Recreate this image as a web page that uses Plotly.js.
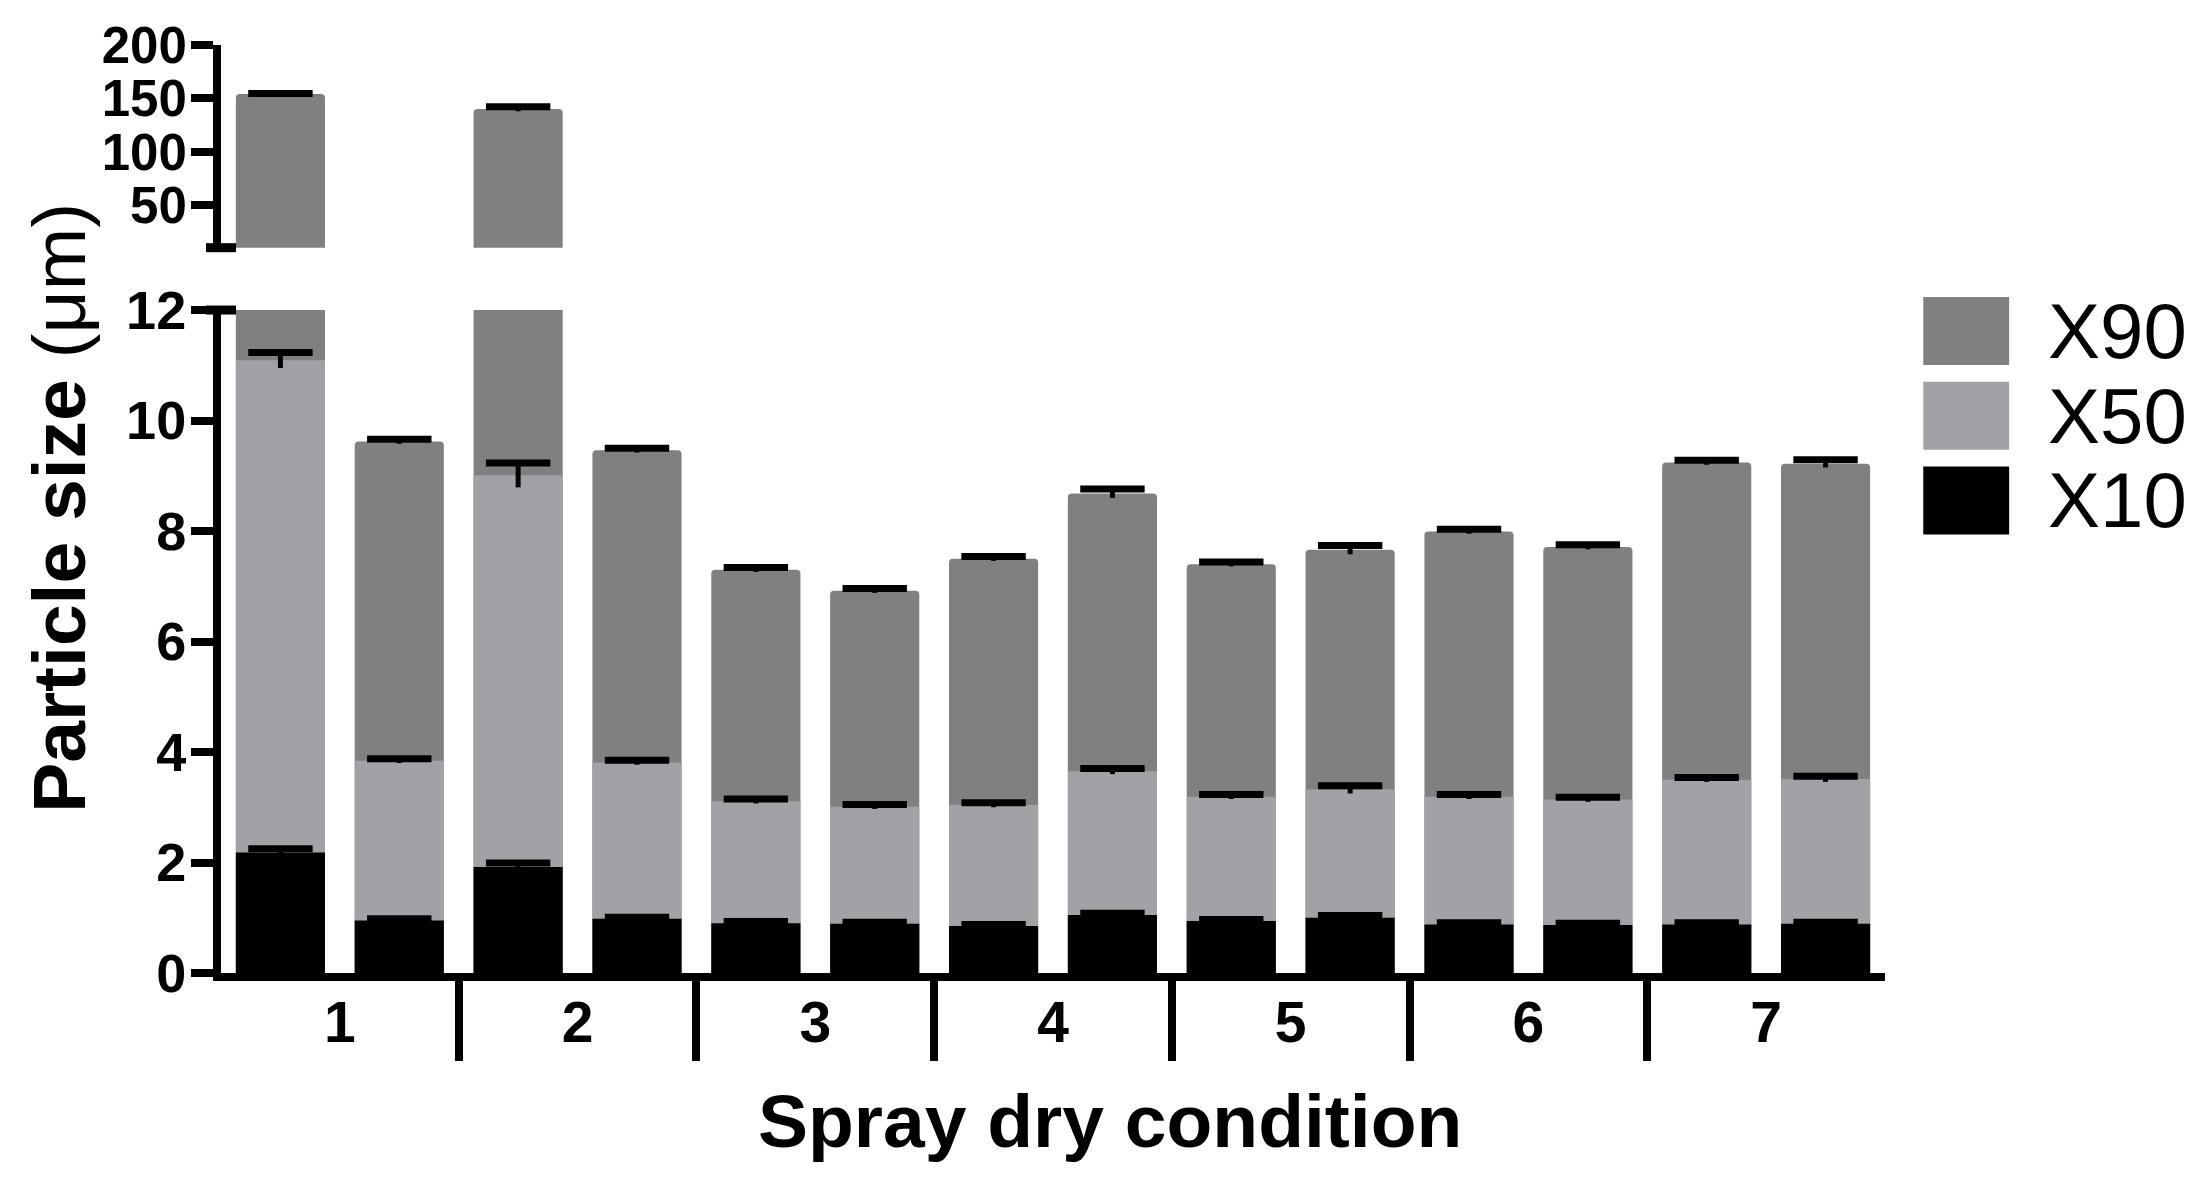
<!DOCTYPE html>
<html>
<head>
<meta charset="utf-8">
<script src="https://cdn.plot.ly/plotly-3.0.1.min.js"></script>
<style>
  html, body { margin: 0; padding: 0; background: #fff; }
  #chart { width: 2211px; height: 1179px; }
</style>
</head>
<body>
<div id="chart"></div>
<script>
// spray dry conditions, two runs each
const conditions = ['1', '2', '3', '4', '5', '6', '7']
const barsPerCondition = 2

// particle size (um), one value per bar
const x10 = [2.18, 0.95, 1.92, 0.98, 0.90, 0.89, 0.85, 1.05, 0.94, 1.00, 0.88, 0.87, 0.88, 0.89]
const x50 = [11.09, 3.84, 9.01, 3.81, 3.11, 3.01, 3.04, 3.65, 3.19, 3.32, 3.19, 3.14, 3.50, 3.51]
const x90 = [154, 9.62, 140, 9.46, 7.30, 6.92, 7.50, 8.68, 7.40, 7.66, 7.99, 7.71, 9.24, 9.22]

// standard deviations
const x10Sd = [0.07, 0.03, 0.07, 0.03, 0.03, 0.03, 0.03, 0.03, 0.03, 0.04, 0.03, 0.03, 0.03, 0.03]
const x50Sd = [0.14, 0.04, 0.22, 0.04, 0.04, 0.04, 0.04, 0.05, 0.04, 0.07, 0.04, 0.04, 0.04, 0.05]
const x90Sd = [0.5, 0.04, 2, 0.04, 0.04, 0.04, 0.04, 0.08, 0.04, 0.08, 0.04, 0.04, 0.04, 0.07]

const seriesNames = ['X90', 'X50', 'X10']
const seriesColors = ['#808080', '#a2a1a5', '#000000']

// broken y axis: lower and upper segments
const lowRange = [0, 12]
const highRange = [10, 200]

const FONT = '"Liberation Sans", Arial, Helvetica, sans-serif'

const xPos = x10.map((_, i) => i)
const groupCenters = conditions.map((_, i) => i * barsPerCondition + (barsPerCondition - 1) / 2)
const groupEdges = conditions.slice(1).map((_, i) => (i + 1) * barsPerCondition - 0.5)
const x90High = x90.map(v => (v > highRange[0] ? v : null))

const makeBar = (name, y, sd, color, yaxis) => ({
  type: 'bar',
  name: name,
  x: xPos,
  y: y,
  yaxis: yaxis,
  marker: { color: color, line: { width: 0 }, cornerradius: 4 },
  error_y: { type: 'data', array: sd, visible: true, color: '#000', thickness: 5, width: 0 },
  hoverinfo: 'skip',
  showlegend: false,
})

const makeCaps = (y, sd, yaxis) => ({
  type: 'scatter',
  mode: 'markers',
  x: xPos,
  y: y.map((v, i) => (v === null ? null : v + sd[i])),
  yaxis: yaxis,
  marker: { symbol: 'line-ew', size: 46, color: '#000', line: { width: 7, color: '#000' } },
  hoverinfo: 'skip',
  showlegend: false,
})

const traces = [
  makeBar('X90', x90, x90Sd, seriesColors[0], 'y'),
  makeBar('X50', x50, x50Sd, seriesColors[1], 'y'),
  makeBar('X10', x10, x10Sd, seriesColors[2], 'y'),
  makeBar('X90', x90High, x90Sd, seriesColors[0], 'y2'),
  makeCaps(x90, x90Sd, 'y'),
  makeCaps(x50, x50Sd, 'y'),
  makeCaps(x10, x10Sd, 'y'),
  makeCaps(x90High, x90Sd, 'y2'),
]

// hand-made legend (plotly legend symbols can't be this big)
const legendShapes = seriesNames.map((name, i) => ({
  type: 'rect',
  xref: 'paper', yref: 'paper',
  x0: 1.0230, x1: 1.0746,
  y0: 0.6552 - i * 0.0913, y1: 0.7284 - i * 0.0913,
  fillcolor: seriesColors[i],
  line: { width: 0 },
}))

const legendLabels = seriesNames.map((name, i) => ({
  xref: 'paper', yref: 'paper',
  x: 1.097, y: 0.6918 - i * 0.0913,
  xanchor: 'left', yanchor: 'middle',
  text: name,
  showarrow: false,
  font: { family: FONT, size: 78, color: '#000' },
}))

// end caps of the axis break
const breakShapes = [
  { type: 'line', xref: 'paper', yref: 'y2 domain', x0: -0.009, x1: 0.009, y0: 0, y1: 0, line: { color: '#000', width: 9 } },
  { type: 'line', xref: 'paper', yref: 'y domain', x0: -0.009, x1: 0.009, y0: 1, y1: 1, line: { color: '#000', width: 9 } },
]

const axisTitles = [
  {
    xref: 'paper', yref: 'paper',
    x: -0.0975, y: 0.501,
    xanchor: 'center', yanchor: 'middle',
    textangle: -90,
    text: '<b>Particle size</b> (μm)',
    showarrow: false,
    font: { family: FONT, size: 75, color: '#000' },
  },
  {
    xref: 'paper', yref: 'paper',
    x: 0.534, y: -0.1595,
    xanchor: 'center', yanchor: 'middle',
    text: '<b>Spray dry condition</b>',
    showarrow: false,
    font: { family: FONT, size: 75, color: '#000' },
  },
]

const yAxisBase = {
  ticks: 'outside',
  ticklen: 22,
  tickwidth: 8,
  tickcolor: '#000',
  ticklabelstandoff: -6,
  showline: true,
  linecolor: '#000',
  linewidth: 8,
  showgrid: false,
  zeroline: false,
}

const layout = {
  width: 2211,
  height: 1179,
  margin: { l: 221, r: 326, t: 45, b: 206, pad: 0 },
  paper_bgcolor: '#fff',
  plot_bgcolor: 'rgba(0,0,0,0)',
  barmode: 'overlay',
  bargap: 0.25,
  showlegend: false,
  xaxis: {
    range: [-0.5, x10.length - 0.5],
    tickvals: groupCenters,
    ticktext: conditions,
    ticks: 'outside',
    ticklen: 1,
    tickcolor: 'rgba(0,0,0,0)',
    ticklabelstandoff: -8,
    tickfont: { family: FONT, size: 57, color: '#000', weight: 'bold' },
    showline: true,
    linecolor: '#000',
    linewidth: 8,
    showgrid: false,
    zeroline: false,
    minor: {
      tickvals: groupEdges,
      ticks: 'outside',
      ticklen: 80,
      tickwidth: 8,
      tickcolor: '#000',
      showgrid: false,
    },
  },
  yaxis: Object.assign({}, yAxisBase, {
    domain: [0, 0.7144],
    range: lowRange,
    tickvals: [0, 2, 4, 6, 8, 10, 12],
    tickfont: { family: FONT, size: 54, color: '#000', weight: 'bold' },
  }),
  yaxis2: Object.assign({}, yAxisBase, {
    domain: [0.7816, 1],
    range: highRange,
    anchor: 'x',
    tickvals: [50, 100, 150, 200],
    tickfont: { family: FONT, size: 51, color: '#000', weight: 'bold' },
  }),
  shapes: breakShapes.concat(legendShapes),
  annotations: axisTitles.concat(legendLabels),
}

try {
  Plotly.newPlot('chart', traces, layout, { displayModeBar: false, staticPlot: true })
} catch (e) {
  console.log('ERR', e)
}
</script>
</body>
</html>
